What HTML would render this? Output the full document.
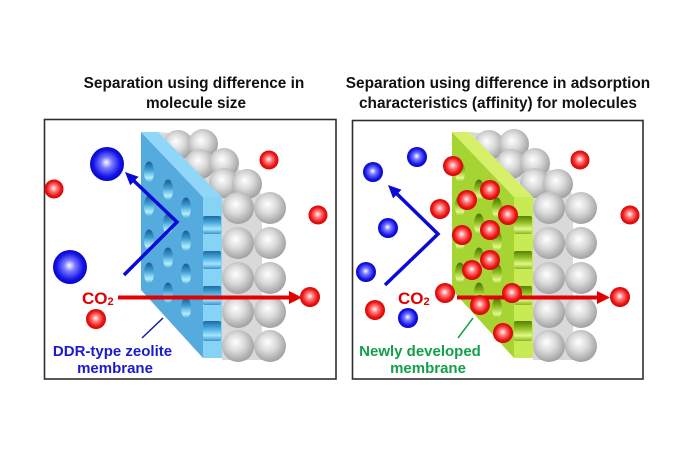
<!DOCTYPE html>
<html><head><meta charset="utf-8"><style>
html,body{margin:0;padding:0;background:#fff;}
svg{display:block;}
text{font-family:"Liberation Sans",Arial,sans-serif;font-weight:bold;}
</style></head><body>
<svg width="690" height="460" viewBox="0 0 690 460" xmlns="http://www.w3.org/2000/svg">
<defs>
<radialGradient id="gs" cx="0.45" cy="0.42" r="0.62" fx="0.42" fy="0.38">
<stop offset="0" stop-color="#ffffff"/><stop offset="0.45" stop-color="#dadada"/><stop offset="1" stop-color="#9a9a9a"/></radialGradient>
<radialGradient id="gb" cx="0.5" cy="0.5" r="0.55" fx="0.48" fy="0.45">
<stop offset="0" stop-color="#ffffff"/><stop offset="0.3" stop-color="#7a7aff"/><stop offset="0.72" stop-color="#1414e6"/><stop offset="1" stop-color="#0000b4"/></radialGradient>
<radialGradient id="gr" cx="0.5" cy="0.5" r="0.55" fx="0.48" fy="0.45">
<stop offset="0" stop-color="#ffffff"/><stop offset="0.3" stop-color="#ff8080"/><stop offset="0.7" stop-color="#ee1414"/><stop offset="1" stop-color="#c40000"/></radialGradient>
<linearGradient id="hb" x1="0" y1="0" x2="0" y2="1">
<stop offset="0" stop-color="#175a8a"/><stop offset="0.4" stop-color="#3f9fd4"/><stop offset="0.78" stop-color="#b4eeff"/><stop offset="1" stop-color="#4aa8da"/></linearGradient>
<linearGradient id="cb" x1="0" y1="0" x2="0" y2="1">
<stop offset="0" stop-color="#1c6aa0"/><stop offset="0.4" stop-color="#4fb0e2"/><stop offset="0.72" stop-color="#a4e4ff"/><stop offset="1" stop-color="#3894cc"/></linearGradient>
<linearGradient id="hg" x1="0" y1="0" x2="0" y2="1">
<stop offset="0" stop-color="#466f06"/><stop offset="0.42" stop-color="#8cbc1e"/><stop offset="0.78" stop-color="#e2f98c"/><stop offset="1" stop-color="#96c628"/></linearGradient>
<linearGradient id="cg" x1="0" y1="0" x2="0" y2="1">
<stop offset="0" stop-color="#557f08"/><stop offset="0.4" stop-color="#96c626"/><stop offset="0.72" stop-color="#e0f88a"/><stop offset="1" stop-color="#88b81c"/></linearGradient>
<g id="grays">
<polygon points="158,132 190,135 235,165 262,195 262,360 222,360 222,197" fill="#d9d9d9"/>
<circle cx="178" cy="145" r="15" fill="url(#gs)"/>
<circle cx="203" cy="144" r="15" fill="url(#gs)"/>
<circle cx="200" cy="164" r="15" fill="url(#gs)"/>
<circle cx="224" cy="163" r="15" fill="url(#gs)"/>
<circle cx="224" cy="183" r="15" fill="url(#gs)"/>
<circle cx="247" cy="184" r="15" fill="url(#gs)"/>
<circle cx="270" cy="208" r="16" fill="url(#gs)"/>
<circle cx="238" cy="208" r="16" fill="url(#gs)"/>
<circle cx="270" cy="243" r="16" fill="url(#gs)"/>
<circle cx="238" cy="243" r="16" fill="url(#gs)"/>
<circle cx="270" cy="278" r="16" fill="url(#gs)"/>
<circle cx="238" cy="278" r="16" fill="url(#gs)"/>
<circle cx="270" cy="312" r="16" fill="url(#gs)"/>
<circle cx="238" cy="312" r="16" fill="url(#gs)"/>
<circle cx="270" cy="346" r="16" fill="url(#gs)"/>
<circle cx="238" cy="346" r="16" fill="url(#gs)"/>
</g>
</defs>

<rect x="0" y="0" width="690" height="460" fill="#ffffff"/>

<!-- Titles -->
<text x="194" y="88" font-size="15.4" text-anchor="middle" fill="#111">Separation using difference in</text>
<text x="196" y="108" font-size="15.4" text-anchor="middle" fill="#111">molecule size</text>
<text x="498" y="88" font-size="15.4" text-anchor="middle" fill="#111">Separation using difference in adsorption</text>
<text x="498" y="108" font-size="15.4" text-anchor="middle" fill="#111">characteristics (affinity) for molecules</text>

<!-- Boxes -->
<rect x="44.5" y="119.5" width="291.5" height="259.5" fill="none" stroke="#2e2e2e" stroke-width="1.6"/>
<rect x="352.5" y="120.5" width="290.5" height="258.5" fill="none" stroke="#2e2e2e" stroke-width="1.6"/>

<!-- ===== Box 1 ===== -->
<use href="#grays"/>
<polygon points="141,132 203,197 203,358 141,290" fill="#55aade"/>
<polygon points="141,132 158,132 222,197 203,197" fill="#8fd6f8"/>
<rect x="203" y="197" width="19" height="161" fill="#86d3f6"/>
<rect x="203" y="216" width="18" height="18" rx="2" fill="url(#cb)"/>
<rect x="203" y="251" width="18" height="18" rx="2" fill="url(#cb)"/>
<rect x="203" y="286" width="18" height="19" rx="2" fill="url(#cb)"/>
<rect x="203" y="321" width="18" height="20" rx="2" fill="url(#cb)"/>
<g fill="url(#hb)">
<ellipse cx="149" cy="172" rx="5" ry="10.5"/><ellipse cx="149" cy="206" rx="5" ry="10.5"/><ellipse cx="149" cy="240" rx="5" ry="10.5"/><ellipse cx="149" cy="273" rx="5" ry="10.5"/>
<ellipse cx="168" cy="190" rx="5" ry="10.5"/><ellipse cx="168" cy="224" rx="5" ry="10.5"/><ellipse cx="168" cy="258" rx="5" ry="10.5"/><ellipse cx="168" cy="293" rx="5" ry="10.5"/>
<ellipse cx="186" cy="208" rx="5" ry="10.5"/><ellipse cx="186" cy="241" rx="5" ry="10.5"/><ellipse cx="186" cy="274" rx="5" ry="10.5"/><ellipse cx="186" cy="308" rx="5" ry="10.5"/>
</g>

<!-- blue arrow box1 -->
<polyline points="124,275 177,222 133,180" fill="none" stroke="#0a0ad8" stroke-width="3.5" stroke-linejoin="miter"/>
<polygon points="125,172 138.6,176.7 130.2,185.3" fill="#0a0ad8"/>
<!-- red arrow box1 -->
<line x1="118" y1="297.5" x2="291" y2="297.5" stroke="#e30000" stroke-width="4"/>
<polygon points="289,291 302,297.5 289,304" fill="#e30000"/>
<text x="82" y="304" font-size="17" fill="#e00000">CO<tspan font-size="11" dy="1">2</tspan></text>

<!-- leader & label box1 -->
<line x1="142" y1="338" x2="163" y2="318" stroke="#1a1a9a" stroke-width="1.5"/>
<text x="112.5" y="356" font-size="15" text-anchor="middle" fill="#1a1ad0">DDR-type zeolite</text>
<text x="115" y="373" font-size="15" text-anchor="middle" fill="#1a1ad0">membrane</text>

<!-- molecules box1 -->
<circle cx="107" cy="164" r="17" fill="url(#gb)"/>
<circle cx="70" cy="267" r="17" fill="url(#gb)"/>
<circle cx="54" cy="189" r="9.5" fill="url(#gr)"/>
<circle cx="96" cy="319" r="10" fill="url(#gr)"/>
<circle cx="269" cy="160" r="9.5" fill="url(#gr)"/>
<circle cx="318" cy="215" r="9.5" fill="url(#gr)"/>
<circle cx="310" cy="297" r="10" fill="url(#gr)"/>

<!-- ===== Box 2 ===== -->
<use href="#grays" transform="translate(311,0)"/>
<g transform="translate(311,0)">
<polygon points="141,132 203,197 203,358 141,290" fill="#a6d432"/>
<polygon points="141,132 158,132 222,197 203,197" fill="#d6f06a"/>
<rect x="203" y="197" width="19" height="161" fill="#c8ea52"/>
<rect x="203" y="216" width="18" height="18" rx="2" fill="url(#cg)"/>
<rect x="203" y="251" width="18" height="18" rx="2" fill="url(#cg)"/>
<rect x="203" y="286" width="18" height="19" rx="2" fill="url(#cg)"/>
<rect x="203" y="321" width="18" height="20" rx="2" fill="url(#cg)"/>
<g fill="url(#hg)">
<ellipse cx="149" cy="172" rx="5" ry="10.5"/><ellipse cx="149" cy="206" rx="5" ry="10.5"/><ellipse cx="149" cy="240" rx="5" ry="10.5"/><ellipse cx="149" cy="273" rx="5" ry="10.5"/>
<ellipse cx="168" cy="190" rx="5" ry="10.5"/><ellipse cx="168" cy="224" rx="5" ry="10.5"/><ellipse cx="168" cy="258" rx="5" ry="10.5"/><ellipse cx="168" cy="293" rx="5" ry="10.5"/>
<ellipse cx="186" cy="208" rx="5" ry="10.5"/><ellipse cx="186" cy="241" rx="5" ry="10.5"/><ellipse cx="186" cy="274" rx="5" ry="10.5"/><ellipse cx="186" cy="308" rx="5" ry="10.5"/>
</g>
</g>

<!-- blue arrow box2 -->
<polyline points="385,285 438,234 396,193" fill="none" stroke="#0a0ad8" stroke-width="3.5"/>
<polygon points="388,185 401.5,189.8 393.1,198.4" fill="#0a0ad8"/>
<!-- red arrow box2 -->
<line x1="457" y1="297.5" x2="599" y2="297.5" stroke="#e30000" stroke-width="4"/>
<polygon points="597,291 610,297.5 597,304" fill="#e30000"/>
<text x="398" y="304" font-size="17" fill="#e00000">CO<tspan font-size="11" dy="1">2</tspan></text>

<!-- leader & label box2 -->
<line x1="458" y1="338" x2="473" y2="318" stroke="#13a04a" stroke-width="1.5"/>
<text x="420" y="356" font-size="15" text-anchor="middle" fill="#13a04a">Newly developed</text>
<text x="428" y="373" font-size="15" text-anchor="middle" fill="#13a04a">membrane</text>

<!-- molecules box2 -->
<g fill="url(#gb)">
<circle cx="373" cy="172" r="10"/>
<circle cx="417" cy="157" r="10"/>
<circle cx="388" cy="228" r="10"/>
<circle cx="366" cy="272" r="10"/>
<circle cx="408" cy="318" r="10"/>
</g>
<g fill="url(#gr)">
<circle cx="453" cy="166" r="10"/>
<circle cx="580" cy="160" r="9.5"/>
<circle cx="630" cy="215" r="9.5"/>
<circle cx="440" cy="209" r="10"/>
<circle cx="490" cy="190" r="10"/>
<circle cx="467" cy="200" r="10"/>
<circle cx="508" cy="215" r="10"/>
<circle cx="462" cy="235" r="10"/>
<circle cx="490" cy="230" r="10"/>
<circle cx="490" cy="260" r="10"/>
<circle cx="472" cy="270" r="10"/>
<circle cx="445" cy="293" r="10"/>
<circle cx="480" cy="305" r="10"/>
<circle cx="512" cy="293" r="10"/>
<circle cx="503" cy="333" r="10"/>
<circle cx="375" cy="310" r="10"/>
<circle cx="620" cy="297" r="10"/>
</g>
</svg>
</body></html>
